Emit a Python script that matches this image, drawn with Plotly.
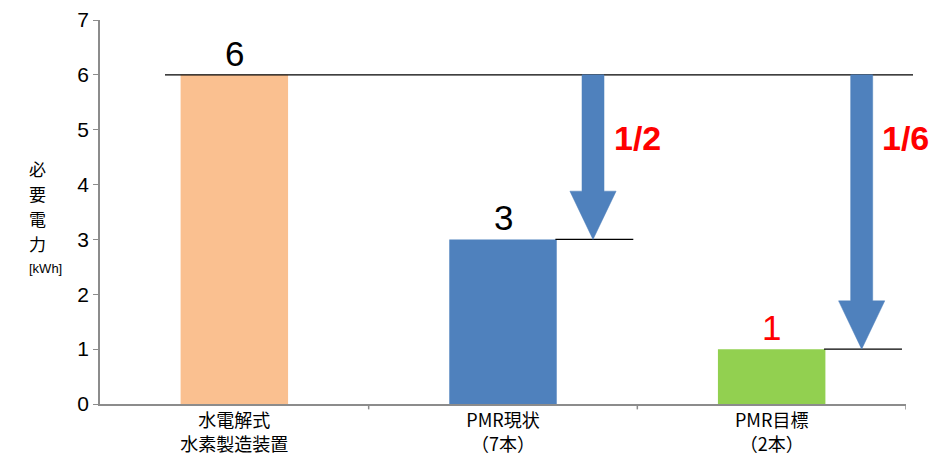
import plotly.graph_objects as go

categories = ["水電解式<br>水素製造装置", "PMR現状<br>（7本）", "PMR目標<br>（2本）"]
values = [6, 3, 1]
bar_colors = ["#FAC090", "#4F81BD", "#92D050"]
label_colors = ["black", "black", "red"]
ratio_labels = ["1/2", "1/6"]
y_ticks = [0, 1, 2, 3, 4, 5, 6, 7]
y_title_chars = ["必", "要", "電", "力"]
y_title_unit = "[kWh]"

JP = "Noto Sans CJK JP"
NUM = "Liberation Sans Narrow, Liberation Sans, Arial"
NUMW = "Liberation Sans, Arial"

fig = go.Figure()
fig.add_trace(go.Bar(
    x=list(range(len(categories))),
    y=values,
    width=0.4,
    marker=dict(color=bar_colors, line=dict(width=0)),
    showlegend=False,
    hoverinfo="skip",
))

shapes = []
shapes.append(dict(type="line", xref="paper", yref="y", x0=0.0806, x1=1.0087,
                   y0=values[0], y1=values[0], line=dict(color="black", width=1.3)))
for i in (1, 2):
    v = values[i]
    shapes.append(dict(type="line", xref="x", yref="y", x0=i + 0.195, x1=i + 0.485,
                       y0=v, y1=v, line=dict(color="black", width=1.3)))
    cx = i + 0.335
    sw = 0.041
    hw = 0.086
    head = 0.88
    top = values[0]
    path = (f"M {cx-sw},{top} L {cx+sw},{top} L {cx+sw},{v+head} L {cx+hw},{v+head} "
            f"L {cx},{v} L {cx-hw},{v+head} L {cx-sw},{v+head} Z")
    shapes.append(dict(type="path", xref="x", yref="y", path=path,
                       fillcolor="#4F81BD", line=dict(color="#4F81BD", width=0.5)))

for b in (0.5, 1.5, 2.5):
    shapes.append(dict(type="line", xref="x", yref="paper", x0=b, x1=b, y0=0, y1=-0.014,
                       line=dict(color="#8C8C8C", width=1.5)))

annotations = []
for i, (v, c) in enumerate(zip(values, label_colors)):
    annotations.append(dict(x=i, y=v, xref="x", yref="y", text=str(v), showarrow=False,
                            yanchor="bottom", yshift=0,
                            font=dict(size=35, color=c, family=NUMW)))
for i, lab in zip((1, 2), ratio_labels):
    annotations.append(dict(x=i + 0.405, y=4.85, xref="x", yref="y", text=f"<b>{lab}</b>",
                            showarrow=False, xanchor="left",
                            font=dict(size=34, color="red", family=NUMW)))
for k, ch in enumerate(y_title_chars):
    annotations.append(dict(x=27, y=168 + 25 * k, xref="paper", yref="paper", text=ch,
                            showarrow=False, font=dict(size=17, color="black", family=JP)))
annotations.append(dict(x=27, y=268, xref="paper", yref="paper", text=y_title_unit,
                        showarrow=False, font=dict(size=13, color="black", family=NUM)))

W, H = 940, 473
L, R, T, B = 100, 34, 20, 69
for a in annotations:
    if a["xref"] == "paper":
        a["x"] = (a["x"] - L) / (W - L - R)
        a["y"] = (H - B - a["y"]) / (H - T - B)

fig.update_layout(
    width=W, height=H,
    margin=dict(l=L, r=R, t=T, b=B, autoexpand=False),
    plot_bgcolor="white", paper_bgcolor="white",
    shapes=shapes, annotations=annotations,
    xaxis=dict(
        tickmode="array", tickvals=list(range(len(categories))), ticktext=categories,
        range=[-0.5, 2.5], showgrid=False, zeroline=False, automargin=False,
        showline=True, linecolor="#8C8C8C", linewidth=1.5,
        ticks="", tickfont=dict(size=18, color="black", family=JP),
    ),
    yaxis=dict(
        range=[0, 7], tickvals=y_ticks, showgrid=False, zeroline=False, automargin=False,
        showline=True, linecolor="#8C8C8C", linewidth=1.5,
        ticks="outside", ticklen=5, tickcolor="#8C8C8C",
        tickfont=dict(size=21, color="black", family=NUM),
    ),
)

fig.write_html("out.html", config={"displayModeBar": False},
               post_script="document.body.style.margin='0';")
